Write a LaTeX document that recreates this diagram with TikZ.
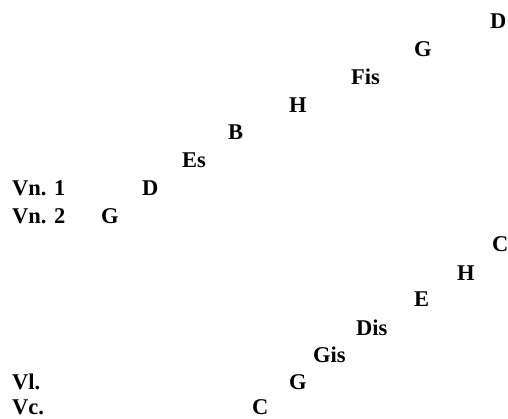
\documentclass[tikz,border=0pt]{standalone}
\usepackage{fontspec}
\setmainfont{Liberation Serif}
\begin{document}
\begin{tikzpicture}[x=1pt,y=-1pt,
  lbl/.style={anchor=base west,inner sep=0pt,font=\fontsize{22.5}{26}\selectfont\bfseries}]
\useasboundingbox (0,0) rectangle (508,419);
% Violins
\node[lbl] (d1) at (490,29) {D};
\node[lbl] (g1) at (414,57) {G};
\node[lbl] (fis) at (351,85) {Fis};
\node[lbl] (h1) at (289,113) {H};
\node[lbl] (b) at (228,140) {B};
\node[lbl] (es) at (182,168) {Es};
\node[lbl] (vn1) at (12,196) {Vn. 1};
\node[lbl] (d2) at (142,196) {D};
\node[lbl] (vn2) at (12,224) {Vn. 2};
\node[lbl] (g2) at (101,224) {G};
% Lower strings
\node[lbl] (c1) at (492,252) {C};
\node[lbl] (h2) at (457,280) {H};
\node[lbl] (e) at (414,306) {E};
\node[lbl] (dis) at (356,335) {Dis};
\node[lbl] (gis) at (313,362) {Gis};
\node[lbl] (vl) at (12,389) {Vl.};
\node[lbl] (g3) at (289,389) {G};
\node[lbl] (vc) at (12,414) {Vc.};
\node[lbl] (c2) at (252,414) {C};
\end{tikzpicture}
\end{document}
